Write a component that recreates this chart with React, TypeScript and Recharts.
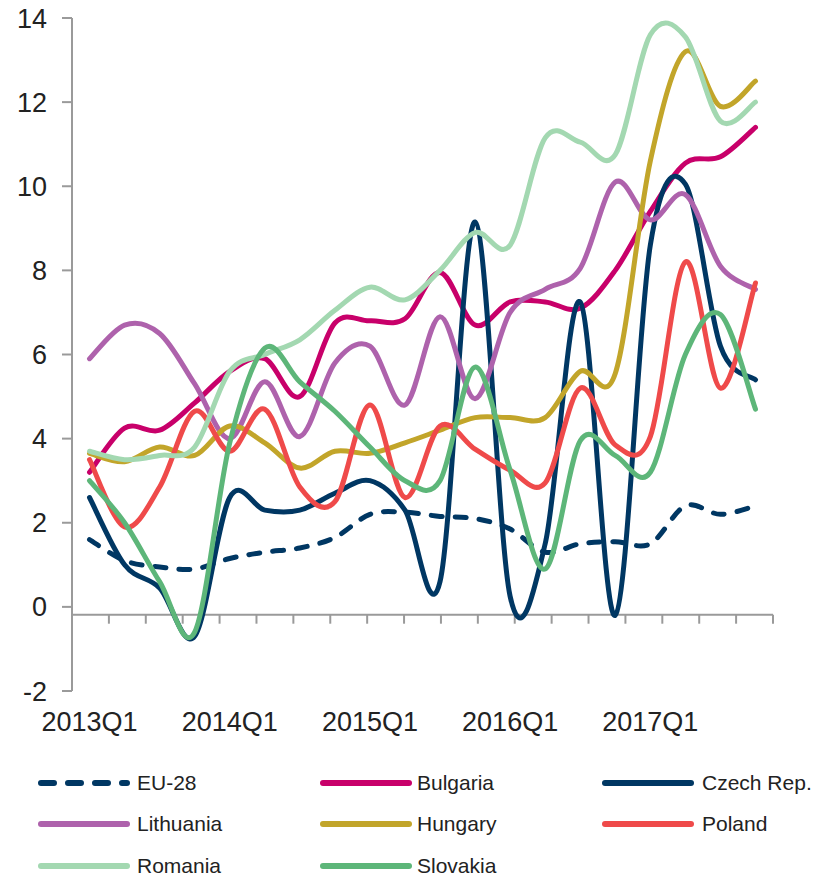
import React from "react";
import { LineChart, Line, XAxis, YAxis, ReferenceLine } from "recharts";

const categories = [
  "2013Q1", "2013Q2", "2013Q3", "2013Q4",
  "2014Q1", "2014Q2", "2014Q3", "2014Q4",
  "2015Q1", "2015Q2", "2015Q3", "2015Q4",
  "2016Q1", "2016Q2", "2016Q3", "2016Q4",
  "2017Q1", "2017Q2", "2017Q3", "2017Q4",
];

const eu28 = [1.6, 1.1, 0.95, 0.9, 1.15, 1.3, 1.4, 1.65, 2.2, 2.25, 2.15, 2.1, 1.85, 1.3, 1.5, 1.55, 1.5, 2.4, 2.2, 2.4];
const bulgaria = [3.2, 4.25, 4.2, 4.85, 5.6, 5.9, 5.0, 6.75, 6.8, 6.85, 7.95, 6.7, 7.25, 7.25, 7.1, 8.0, 9.4, 10.55, 10.7, 11.4];
const czech = [2.6, 1.0, 0.45, -0.7, 2.6, 2.3, 2.3, 2.7, 3.0, 2.3, 0.6, 9.15, 0.25, 1.5, 7.25, -0.2, 8.6, 10.05, 6.2, 5.4];
const lithuania = [5.9, 6.7, 6.5, 5.3, 4.0, 5.35, 4.05, 5.8, 6.2, 4.8, 6.9, 4.95, 7.0, 7.55, 8.05, 10.1, 9.2, 9.8, 8.1, 7.55];
const hungary = [3.65, 3.45, 3.8, 3.6, 4.3, 3.9, 3.3, 3.7, 3.65, 3.9, 4.2, 4.5, 4.5, 4.5, 5.6, 5.55, 10.6, 13.2, 11.9, 12.5];
const poland = [3.5, 1.9, 2.85, 4.65, 3.7, 4.7, 2.85, 2.5, 4.8, 2.6, 4.3, 3.75, 3.25, 2.95, 5.2, 3.85, 4.05, 8.2, 5.2, 7.7];
const romania = [3.7, 3.5, 3.6, 3.8, 5.6, 6.0, 6.35, 7.05, 7.6, 7.3, 8.0, 8.9, 8.6, 11.15, 11.05, 10.75, 13.6, 13.55, 11.55, 12.0];
const slovakia = [3.0, 2.0, 0.6, -0.6, 3.9, 6.15, 5.35, 4.65, 3.8, 3.0, 3.0, 5.7, 3.25, 0.9, 3.95, 3.6, 3.2, 6.0, 6.95, 4.7];

const yTicks = [-2, 0, 2, 4, 6, 8, 10, 12, 14];

const seriesList = [
  { key: "EU-28", values: eu28, color: "#003763", dashed: true },
  { key: "Bulgaria", values: bulgaria, color: "#C8006A", dashed: false },
  { key: "Czech Rep.", values: czech, color: "#003763", dashed: false },
  { key: "Lithuania", values: lithuania, color: "#AE62AC", dashed: false },
  { key: "Hungary", values: hungary, color: "#C2A52A", dashed: false },
  { key: "Poland", values: poland, color: "#EF4A4A", dashed: false },
  { key: "Romania", values: romania, color: "#A3D8B1", dashed: false },
  { key: "Slovakia", values: slovakia, color: "#5DB679", dashed: false },
];

const data = categories.map((c, i) => {
  const row: Record<string, any> = { cat: c };
  seriesList.forEach((s) => {
    row[s.key] = s.values[i];
  });
  return row;
});

const boundaries = Array.from({ length: categories.length + 1 }, (_, i) => i);

// Catmull-Rom style smoothing (like spreadsheet "smoothed line")
function smoothCurve(context: any) {
  let pts: number[][] = [];
  return {
    areaStart() {},
    areaEnd() {},
    lineStart() {
      pts = [];
    },
    point(x: number, y: number) {
      pts.push([+x, +y]);
    },
    lineEnd() {
      const n = pts.length;
      if (!n) return;
      context.moveTo(pts[0][0], pts[0][1]);
      for (let i = 0; i < n - 1; i++) {
        const p0 = pts[i - 1] || pts[i];
        const p1 = pts[i];
        const p2 = pts[i + 1];
        const p3 = pts[i + 2] || pts[i + 1];
        context.bezierCurveTo(
          p1[0] + (p2[0] - p0[0]) / 6,
          p1[1] + (p2[1] - p0[1]) / 6,
          p2[0] - (p3[0] - p1[0]) / 6,
          p2[1] - (p3[1] - p1[1]) / 6,
          p2[0],
          p2[1]
        );
      }
    },
  };
}

const AXIS = "#9A9A9A";
const FONT = "'Liberation Sans', Arial, sans-serif";

const CHART_W = 823;
const Y_W = 72;
const RIGHT = 50;
const HALF_BAND = (CHART_W - Y_W - RIGHT) / categories.length / 2;

const legendCols = [
  { lineX: 38, textX: 137 },
  { lineX: 320, textX: 417 },
  { lineX: 602, textX: 702 },
];
const legendRows = [43, 84, 126];

export default function App() {
  return (
    <div style={{ position: "relative", width: 823, height: 876, marginLeft: -8, marginTop: -8, background: "#fff" }}>
      <LineChart
        width={CHART_W}
        height={740}
        data={data}
        margin={{ top: 18, right: RIGHT, bottom: 0, left: 0 }}
      >
        <XAxis
          dataKey="cat"
          interval={3}
          axisLine={false}
          tickLine={false}
          tickSize={6}
          tickMargin={15}
          height={49}
          padding={{ left: HALF_BAND, right: HALF_BAND }}
          tick={{ fontSize: 27, fill: "#222", fontFamily: FONT }}
        />
        <XAxis xAxisId="n" type="number" domain={[0, categories.length]} hide allowDataOverflow />
        <YAxis
          domain={[-2, 14]}
          ticks={yTicks}
          width={Y_W}
          axisLine={{ stroke: AXIS, strokeWidth: 2 }}
          tickLine={{ stroke: AXIS, strokeWidth: 2 }}
          tickSize={10}
          tickMargin={15}
          tick={{ fontSize: 27, fill: "#222", fontFamily: FONT }}
          allowDataOverflow
        />
        <ReferenceLine y={-0.19} stroke={AXIS} strokeWidth={2} />
        {boundaries.map((b) => (
          <ReferenceLine
            key={"t" + b}
            xAxisId="n"
            segment={[
              { x: b, y: -0.19 },
              { x: b, y: -0.4 },
            ]}
            stroke={AXIS}
            strokeWidth={2}
          />
        ))}
        {seriesList.map((s) => (
          <Line
            key={s.key}
            dataKey={s.key}
            type={smoothCurve as any}
            stroke={s.color}
            strokeWidth={5}
            strokeDasharray={s.dashed ? "11 13" : undefined}
            strokeLinecap="round"
            strokeLinejoin="round"
            dot={false}
            activeDot={false}
            isAnimationActive={false}
          />
        ))}
      </LineChart>
      <svg width={823} height={136} style={{ position: "absolute", left: 0, top: 740 }}>
        {seriesList.map((s, i) => {
          const col = legendCols[i % 3];
          const y = legendRows[Math.floor(i / 3)];
          return (
            <g key={s.key}>
              <line
                x1={col.lineX + 3}
                x2={col.lineX + 89}
                y1={y}
                y2={y}
                stroke={s.color}
                strokeWidth={6}
                strokeLinecap="round"
                strokeDasharray={s.dashed ? "13 14" : undefined}
              />
              <text x={col.textX} y={y + 7} fontSize={21} fill="#222" fontFamily={FONT}>
                {s.key}
              </text>
            </g>
          );
        })}
      </svg>
    </div>
  );
}
